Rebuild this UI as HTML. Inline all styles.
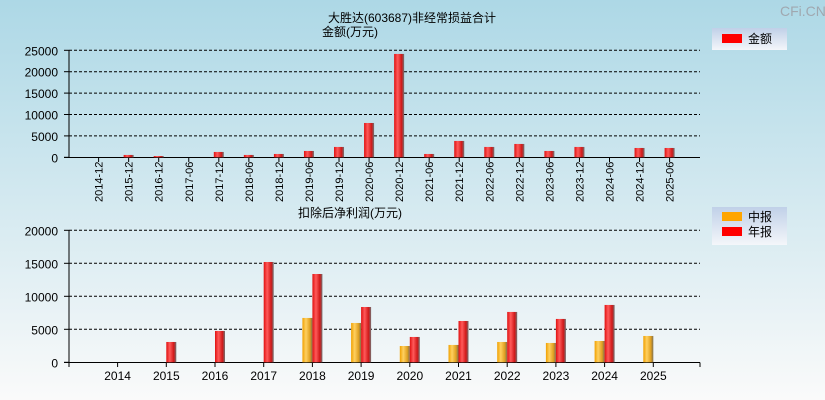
<!DOCTYPE html>
<html><head><meta charset="utf-8"><style>
body{margin:0;width:825px;height:400px;overflow:hidden;font-family:"Liberation Sans","Noto Sans CJK SC",sans-serif;}
svg{display:block}
</style></head><body>
<svg id="c" width="825" height="400" xmlns="http://www.w3.org/2000/svg">
<defs>
<linearGradient id="bg" x1="0" y1="0" x2="0" y2="1"><stop offset="0" stop-color="#add8e6"/><stop offset="1" stop-color="#fafafa"/></linearGradient>
<linearGradient id="red" x1="0" y1="0" x2="1" y2="0"><stop offset="0" stop-color="#e01010"/><stop offset="0.35" stop-color="#ff5a5a"/><stop offset="0.75" stop-color="#d01818"/><stop offset="1" stop-color="#707070"/></linearGradient>
<linearGradient id="org" x1="0" y1="0" x2="1" y2="0"><stop offset="0" stop-color="#f0a000"/><stop offset="0.35" stop-color="#ffd060"/><stop offset="0.75" stop-color="#e0a020"/><stop offset="1" stop-color="#807050"/></linearGradient>
<linearGradient id="lg" x1="0" y1="0" x2="0" y2="1"><stop offset="0" stop-color="#c0d0e8"/><stop offset="1" stop-color="#f4f6fa"/></linearGradient>
</defs>
<rect width="825" height="400" fill="url(#bg)"/>
<text x="780" y="16" font-size="14" fill="#a0a8b0">CFi.CN</text>
<text x="412" y="22" font-size="12" text-anchor="middle">大胜达(603687)非经常损益合计</text>
<text x="350" y="36" font-size="12" text-anchor="middle">金额(万元)</text>
<text x="350" y="217" font-size="12" text-anchor="middle">扣除后净利润(万元)</text>
<g>
<rect x="712" y="28" width="75" height="22" fill="url(#lg)"/>
<rect x="722" y="34" width="20" height="9" fill="#ff0000"/>
<text x="748" y="43" font-size="12">金额</text>
</g>
<g>
<rect x="712" y="207" width="75" height="38" fill="url(#lg)"/>
<rect x="722" y="212" width="20" height="9" fill="#ffa500"/>
<text x="748" y="221" font-size="12">中报</text>
<rect x="722" y="227" width="20" height="9" fill="#ff0000"/>
<text x="748" y="236" font-size="12">年报</text>
</g>
<g id="top"></g><g id="bot"></g>
</svg>
<script>
const topCats=["2014-12","2015-12","2016-12","2017-06","2017-12","2018-06","2018-12","2019-06","2019-12","2020-06","2020-12","2021-06","2021-12","2022-06","2022-12","2023-06","2023-12","2024-06","2024-12","2025-06"];
const topVals=[0,550,300,0,1250,550,780,1480,2420,8020,24150,780,3820,2420,3120,1480,2420,0,2180,2180];
const topTicks=[0,5000,10000,15000,20000,25000];
const botCats=["2014","2015","2016","2017","2018","2019","2020","2021","2022","2023","2024","2025"];
const halfVals=[0,0,0,0,6720,5960,2470,2630,3080,2930,3230,3990];
const annualVals=[0,3080,4750,15200,13380,8380,3840,6260,7630,6570,8690,0];
const botTicks=[0,5000,10000,15000,20000];
const NS="http://www.w3.org/2000/svg";
function mk(p,t,a){const e=document.createElementNS(NS,t);for(const k in a)e.setAttribute(k,a[k]);p.appendChild(e);return e;}
const T=document.getElementById('top');
const tY=v=>157.3-v*107/25000, tX=i=>98.6+i*(571/(topCats.length-1));
topTicks.forEach(v=>{
 if(v>0){const l=mk(T,'line',{x1:69,x2:700,y1:tY(v),y2:tY(v),stroke:'#000','stroke-dasharray':'3,2'});}
 mk(T,'line',{x1:64,x2:69,y1:tY(v),y2:tY(v),stroke:'#000'});
 const t=mk(T,'text',{x:58,y:tY(v)+5,'font-size':12,'text-anchor':'end'});t.textContent=v;
 
});
mk(T,'line',{x1:69,x2:69,y1:50,y2:157.5,stroke:'#000'});
mk(T,'line',{x1:64,x2:700,y1:157.5,y2:157.5,stroke:'#000'});
topCats.forEach((c,i)=>{
 const x=tX(i);
 mk(T,'line',{x1:x,x2:x,y1:157.5,y2:162,stroke:'#000'});
 const t=mk(T,'text',{x:x+4,y:202,'font-size':11,transform:`rotate(-90 ${x+4} 202)`});t.textContent=c;
 
 if(topVals[i]>0){const h=topVals[i]*107/25000;const r=mk(T,'rect',{x:x-5,y:157.3-h,width:10,height:h,fill:'url(#red)'});
 }
});
const B=document.getElementById('bot');
const bY=v=>362.3-v*132/20000, bX=i=>117.6+i*48.7;
botTicks.forEach(v=>{
 if(v>0){const l=mk(B,'line',{x1:69,x2:700,y1:bY(v),y2:bY(v),stroke:'#000','stroke-dasharray':'3,2'});}
 mk(B,'line',{x1:64,x2:69,y1:bY(v),y2:bY(v),stroke:'#000'});
 const t=mk(B,'text',{x:58,y:bY(v)+5,'font-size':12,'text-anchor':'end'});t.textContent=v;
 
});
mk(B,'line',{x1:69,x2:69,y1:230,y2:362.5,stroke:'#000'});
mk(B,'line',{x1:64,x2:700,y1:362.5,y2:362.5,stroke:'#000'});
mk(B,'line',{x1:69,x2:69,y1:362.5,y2:367,stroke:'#000'});
mk(B,'line',{x1:700,x2:700,y1:362.5,y2:367,stroke:'#000'});
botCats.forEach((c,i)=>{
 const x=bX(i);
 mk(B,'line',{x1:x,x2:x,y1:362.5,y2:367,stroke:'#000'});
 const t=mk(B,'text',{x:x,y:380,'font-size':12,'text-anchor':'middle'});t.textContent=c;
 
 if(halfVals[i]>0){const h=halfVals[i]*132/20000;const r=mk(B,'rect',{x:x-10,y:362.3-h,width:10,height:h,fill:'url(#org)'});
 }
 if(annualVals[i]>0){const h=annualVals[i]*132/20000;const r=mk(B,'rect',{x:x,y:362.3-h,width:10,height:h,fill:'url(#red)'});
 }
});
</script>
</body></html>
